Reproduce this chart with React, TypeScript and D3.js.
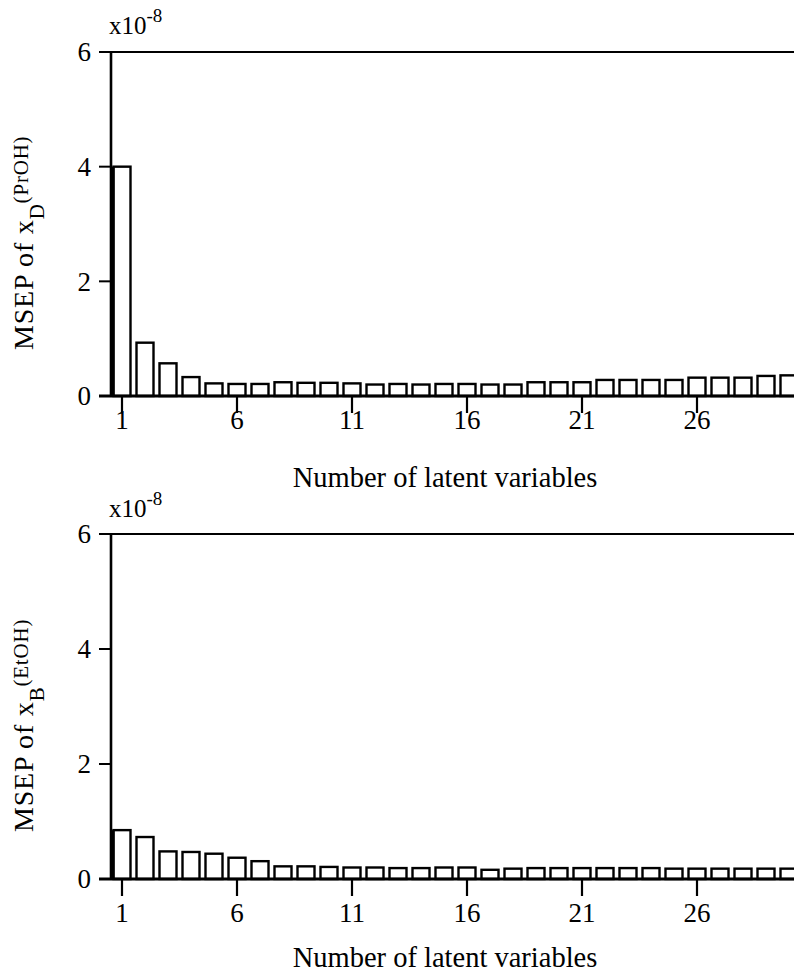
import React from "react";
import * as d3 from "d3";

const latentVariables: number[] = d3.range(1, 31);
const xTickValues: number[] = [1, 6, 11, 16, 21, 26];
const yTickValues: number[] = [0, 2, 4, 6];

const msepTopPrOH: number[] = [
  4.0, 0.93, 0.57, 0.33, 0.22, 0.21, 0.21, 0.24, 0.23, 0.23,
  0.22, 0.2, 0.21, 0.2, 0.21, 0.21, 0.2, 0.2, 0.24, 0.24,
  0.24, 0.28, 0.28, 0.28, 0.28, 0.32, 0.32, 0.32, 0.35, 0.36,
];
const msepBottomEtOH: number[] = [
  0.85, 0.73, 0.48, 0.47, 0.44, 0.37, 0.31, 0.22, 0.22, 0.21,
  0.2, 0.2, 0.19, 0.19, 0.2, 0.2, 0.16, 0.18, 0.19, 0.19,
  0.19, 0.19, 0.19, 0.19, 0.18, 0.18, 0.18, 0.18, 0.18, 0.18,
];

const FONT = "'Liberation Serif', 'Times New Roman', serif";

type PanelProps = {
  values: number[];
  top: number;
  bottom: number;
  sub: string;
  sup: string;
  xTickLabelY: number;
  xTitleY: number;
  exponentY: number;
  labelStartY: number;
};

function Panel({ values, top, bottom, sub, sup, xTickLabelY, xTitleY, exponentY, labelStartY }: PanelProps) {
  const axisX = 111;
  const x = d3.scaleLinear().domain([1, 30]).range([122, 789]);
  const y = d3.scaleLinear().domain([0, 6]).range([bottom, top]);
  const barW = 17;
  return (
    <g fontFamily={FONT} fill="#000">
      {values.map((v, i) => {
        const cx = x(latentVariables[i]);
        return (
          <rect
            key={i}
            x={cx - barW / 2}
            y={y(v)}
            width={barW}
            height={y(0) - y(v)}
            fill="#fff"
            stroke="#000"
            strokeWidth={2.4}
          />
        );
      })}
      <rect
        x={axisX}
        y={y(values[0])}
        width={x(1) - barW / 2 - axisX + 1}
        height={y(0) - y(values[0])}
        fill="#000"
      />
      <line x1={axisX} x2={794} y1={y(6)} y2={y(6)} stroke="#000" strokeWidth={2.2} />
      <line x1={axisX} x2={axisX} y1={y(6)} y2={y(0) + 1} stroke="#000" strokeWidth={2.6} />
      <line x1={axisX - 12} x2={794} y1={y(0)} y2={y(0)} stroke="#000" strokeWidth={3} />
      {yTickValues.map((t) => (
        <g key={t}>
          <line x1={axisX - 12} x2={axisX} y1={y(t)} y2={y(t)} stroke="#000" strokeWidth={2} />
          <text x={axisX - 20} y={y(t)} dy="0.35em" textAnchor="end" fontSize={27}>
            {t}
          </text>
        </g>
      ))}
      {xTickValues.map((t) => (
        <g key={t}>
          <line x1={x(t)} x2={x(t)} y1={y(0)} y2={y(0) + 17} stroke="#000" strokeWidth={2.2} />
          <text x={x(t)} y={xTickLabelY} textAnchor="middle" fontSize={27}>
            {t}
          </text>
        </g>
      ))}
      <text x={445} y={xTitleY} textAnchor="middle" fontSize={28.5}>
        Number of latent variables
      </text>
      <text x={109} y={exponentY} fontSize={25}>
        x10
        <tspan fontSize={19} dy={-12}>-8</tspan>
      </text>
      <text
        transform={`translate(33, ${labelStartY}) rotate(-90)`}
        fontSize={28}
        letterSpacing={0.8}
      >
        MSEP of x
        <tspan fontSize={21} dy={11}>{sub}</tspan>
        <tspan fontSize={21} dy={-16}>{sup}</tspan>
      </text>
    </g>
  );
}

export default function App() {
  return (
    <svg
      width={794}
      height={974}
      style={{ position: "absolute", left: 0, top: 0, background: "#fff" }}
    >
      <rect x={0} y={0} width={794} height={974} fill="#fff" />
      <Panel
        values={msepTopPrOH}
        top={52}
        bottom={396}
        sub="D"
        sup="(PrOH)"
        xTickLabelY={429}
        xTitleY={487}
        exponentY={34}
        labelStartY={350}
      />
      <Panel
        values={msepBottomEtOH}
        top={534}
        bottom={879}
        sub="B"
        sup="(EtOH)"
        xTickLabelY={922}
        xTitleY={967}
        exponentY={517}
        labelStartY={832}
      />
    </svg>
  );
}
